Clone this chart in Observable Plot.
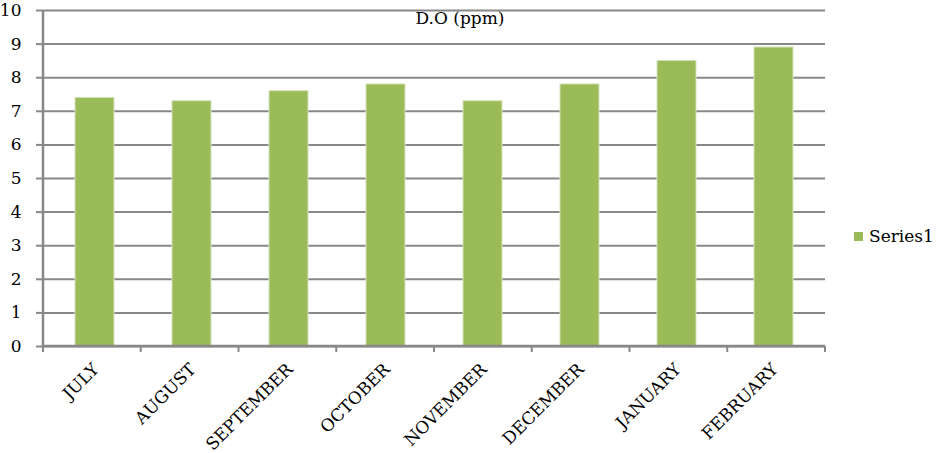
<!DOCTYPE html>
<html>
<head>
<meta charset="utf-8">
<script src="https://cdn.jsdelivr.net/npm/d3@7"></script>
<script src="https://cdn.jsdelivr.net/npm/@observablehq/plot@0.6"></script>
<style>
  html, body { margin: 0; padding: 0; background: #fff; }
  #chart { position: relative; width: 940px; height: 453px; }
  #chart svg { position: absolute; left: 0; top: 0; }
</style>
</head>
<body>
<div id="chart"></div>
<script>
const months = ["JULY", "AUGUST", "SEPTEMBER", "OCTOBER", "NOVEMBER", "DECEMBER", "JANUARY", "FEBRUARY"];
const doValues = [7.4, 7.3, 7.6, 7.8, 7.3, 7.8, 8.5, 8.9];
const yTicks = [0, 1, 2, 3, 4, 5, 6, 7, 8, 9, 10];
const title = "D.O (ppm)";
const seriesName = "Series1";

const data = months.map((m, i) => ({month: m, value: doValues[i]}));
const serif = "'DejaVu Serif', 'Liberation Serif', serif";
const gridColor = "#888888";
const barColor = "#9BBB59";

const mL = 43, mR = 115, mT = 10, mB = 107, W = 940, H = 453;

const plot = Plot.plot({
  width: W,
  height: H,
  marginLeft: mL,
  marginRight: mR,
  marginTop: mT,
  marginBottom: mB,
  style: {fontFamily: serif, fontSize: "16px", color: "#000", background: "#fff", overflow: "visible"},
  x: {domain: months, paddingInner: 0.6, paddingOuter: 0.3, label: null},
  y: {domain: [0, 10], label: null},
  marks: [
    Plot.ruleY(yTicks, {stroke: gridColor, strokeWidth: 2}),
    Plot.barY(data, {x: "month", y: "value", fill: barColor, stroke: "#d6e4bd", strokeWidth: 1}),
    Plot.axisY(yTicks, {tickSize: 7, tickPadding: 15, stroke: gridColor, strokeWidth: 2, fontSize: 17, fill: "#000"}),
    Plot.axisX({tickSize: 0, tickRotate: -45, tickPadding: 20, fontSize: 17, fill: "#000", textAnchor: "end", dx: 1})
  ]
});

document.getElementById("chart").appendChild(plot);

const svg = d3.select(plot);
const xs = plot.scale("x");
const ys = plot.scale("y");
const x0 = xs.range[0], x1 = xs.range[1];
const step = (x1 - x0) / months.length;
const yBase = ys.apply(0), yTop = ys.apply(10);

// axis lines
svg.append("line").attr("x1", x0).attr("x2", x0).attr("y1", yTop).attr("y2", yBase)
  .attr("stroke", gridColor).attr("stroke-width", 2.5);
svg.append("line").attr("x1", x0).attr("x2", x1).attr("y1", yBase).attr("y2", yBase)
  .attr("stroke", gridColor).attr("stroke-width", 2.5);
// category boundary ticks
d3.range(months.length + 1).forEach(i => {
  svg.append("line").attr("x1", x0 + i * step).attr("x2", x0 + i * step)
    .attr("y1", yBase).attr("y2", yBase + 6)
    .attr("stroke", gridColor).attr("stroke-width", 2);
});

// title
svg.append("text").attr("x", 460).attr("y", 24)
  .style("text-anchor", "middle").style("font-family", serif).style("font-size", "17px")
  .style("fill", "#000").text(title);

// legend
svg.append("rect").attr("x", 854).attr("y", 232).attr("width", 9).attr("height", 9).attr("fill", barColor);
svg.append("text").attr("x", 869).attr("y", 242)
  .style("text-anchor", "start").style("font-family", serif).style("font-size", "17px")
  .style("fill", "#000").text(seriesName);
</script>
</body>
</html>
